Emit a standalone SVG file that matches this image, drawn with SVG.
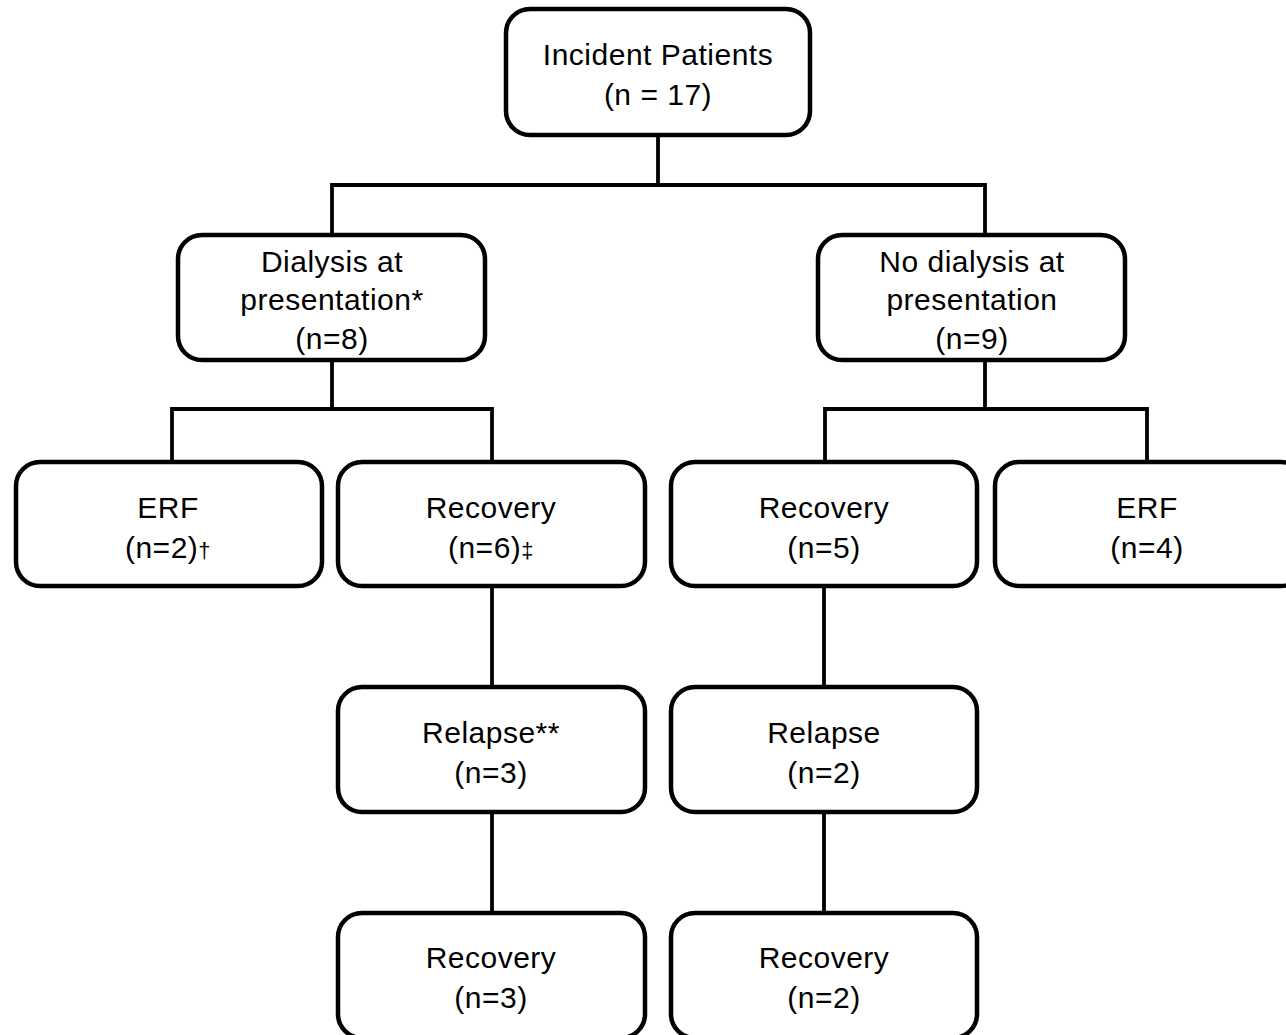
<svg xmlns="http://www.w3.org/2000/svg" width="1286" height="1035" viewBox="0 0 1286 1035">
<style>
.box{fill:#fff;stroke:#000;stroke-width:4.5}
.ln{fill:none;stroke:#000;stroke-width:3.8;stroke-linecap:square}
text{font-family:"Liberation Sans",Arial,sans-serif;font-size:30px;fill:#000;text-anchor:middle;letter-spacing:0.5px}
.sm{font-size:22px}
</style>
<rect width="1286" height="1035" fill="#fff"/>
<g id="connectors">
<path class="ln" d="M658 135V185M332 185H985M332 185V235M985 185V235"/>
<path class="ln" d="M332 360V409M172 409H492M172 409V461M492 409V461"/>
<path class="ln" d="M985 360V409M825 409H1147M825 409V461M1147 409V461"/>
<path class="ln" d="M492 586V687M492 812V913M824 586V687M824 812V913"/>
</g>
<g id="n-incident"><rect class="box" x="506" y="9" width="304" height="126" rx="24"/><text x="658" y="65">Incident Patients</text><text x="658" y="105">(n = 17)</text></g>
<g id="n-dialysis"><rect class="box" x="178" y="235" width="307" height="125" rx="24"/><text x="332" y="272">Dialysis at</text><text x="332" y="310">presentation*</text><text x="332" y="349">(n=8)</text></g>
<g id="n-nodialysis"><rect class="box" x="818" y="235" width="307" height="125" rx="24"/><text x="972" y="272">No dialysis at</text><text x="972" y="310">presentation</text><text x="972" y="349">(n=9)</text></g>
<g id="n-erf1"><rect class="box" x="16" y="462" width="306" height="124" rx="24"/><text x="168" y="518">ERF</text><text x="168" y="558">(n=2)<tspan class="sm">†</tspan></text></g>
<g id="n-rec6"><rect class="box" x="338" y="462" width="307" height="124" rx="24"/><text x="491" y="518">Recovery</text><text x="491" y="558">(n=6)<tspan class="sm">‡</tspan></text></g>
<g id="n-rec5"><rect class="box" x="671" y="462" width="306" height="124" rx="24"/><text x="824" y="518">Recovery</text><text x="824" y="558">(n=5)</text></g>
<g id="n-erf4"><rect class="box" x="995" y="462" width="310" height="124" rx="24"/><text x="1147" y="518">ERF</text><text x="1147" y="558">(n=4)</text></g>
<g id="n-relapse3"><rect class="box" x="338" y="687" width="307" height="125" rx="24"/><text x="491" y="743">Relapse**</text><text x="491" y="783">(n=3)</text></g>
<g id="n-relapse2"><rect class="box" x="671" y="687" width="306" height="125" rx="24"/><text x="824" y="743">Relapse</text><text x="824" y="783">(n=2)</text></g>
<g id="n-rec3"><rect class="box" x="338" y="913" width="307" height="125" rx="24"/><text x="491" y="968">Recovery</text><text x="491" y="1008">(n=3)</text></g>
<g id="n-rec2"><rect class="box" x="671" y="913" width="306" height="125" rx="24"/><text x="824" y="968">Recovery</text><text x="824" y="1008">(n=2)</text></g>
</svg>
